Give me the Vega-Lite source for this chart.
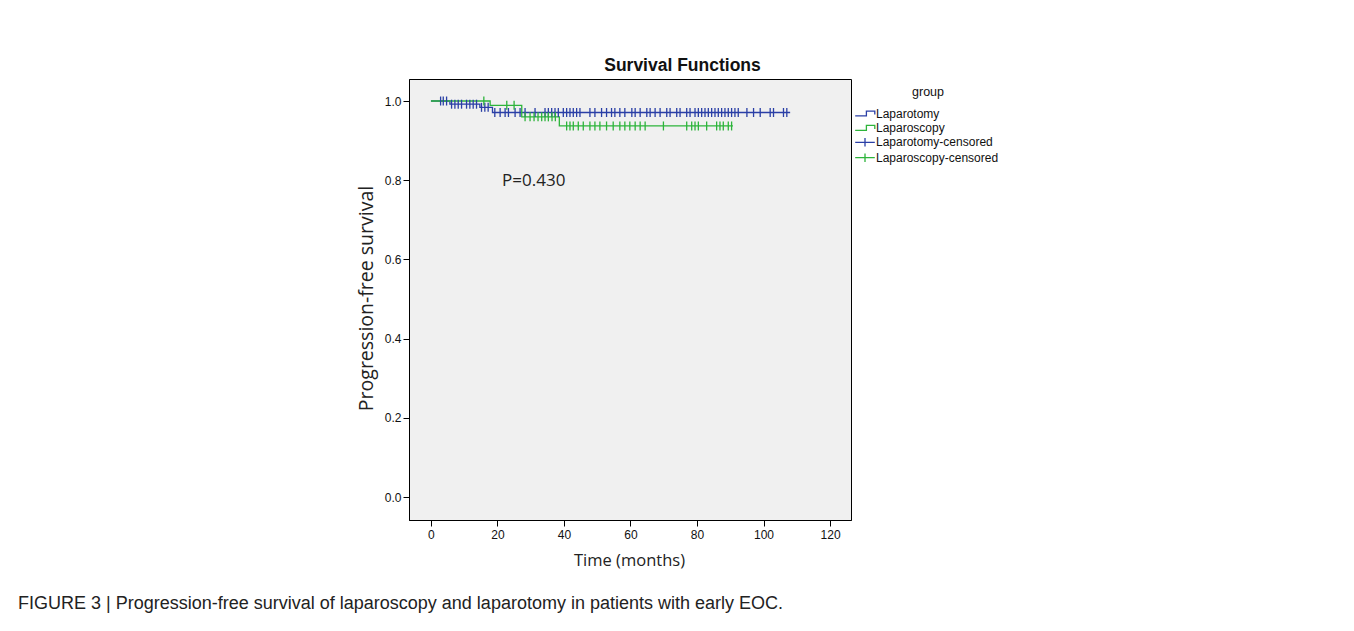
{
  "$schema": "https://vega.github.io/schema/vega-lite/v6.json",
  "autosize": {"type": "none"},
  "width": 442,
  "height": 441,
  "padding": {"left": 409, "top": 79, "right": 503, "bottom": 111},
  "background": "#ffffff",
  "title": {
    "text": "FIGURE 3 | Progression-free survival of laparoscopy and laparotomy in patients with early EOC.",
    "orient": "bottom",
    "anchor": "start",
    "frame": "group",
    "dx": -391,
    "offset": 26,
    "fontSize": 18,
    "font": "Liberation Sans",
    "fontWeight": "normal",
    "color": "#222222"
  },
  "datasets": {
    "curve": [
      {"group": "Laparotomy", "t": 0, "s": 1.0},
      {"group": "Laparotomy", "t": 5.7, "s": 0.992},
      {"group": "Laparotomy", "t": 14.7, "s": 0.984},
      {"group": "Laparotomy", "t": 18.5, "s": 0.971},
      {"group": "Laparotomy", "t": 108, "s": 0.971},
      {"group": "Laparoscopy", "t": 0, "s": 1.0},
      {"group": "Laparoscopy", "t": 17.8, "s": 0.989},
      {"group": "Laparoscopy", "t": 27.3, "s": 0.96},
      {"group": "Laparoscopy", "t": 38.6, "s": 0.937},
      {"group": "Laparoscopy", "t": 90.8, "s": 0.937}
    ],
    "censor": [
      {"group": "Laparotomy-censored", "t": 2.9, "s": 1.0},
      {"group": "Laparotomy-censored", "t": 3.7, "s": 1.0},
      {"group": "Laparotomy-censored", "t": 4.7, "s": 1.0},
      {"group": "Laparotomy-censored", "t": 6.2, "s": 0.992},
      {"group": "Laparotomy-censored", "t": 7.2, "s": 0.992},
      {"group": "Laparotomy-censored", "t": 8.2, "s": 0.992},
      {"group": "Laparotomy-censored", "t": 9.2, "s": 0.992},
      {"group": "Laparotomy-censored", "t": 10.7, "s": 0.992},
      {"group": "Laparotomy-censored", "t": 11.7, "s": 0.992},
      {"group": "Laparotomy-censored", "t": 12.7, "s": 0.992},
      {"group": "Laparotomy-censored", "t": 13.7, "s": 0.992},
      {"group": "Laparotomy-censored", "t": 15.2, "s": 0.984},
      {"group": "Laparotomy-censored", "t": 16.2, "s": 0.984},
      {"group": "Laparotomy-censored", "t": 17.2, "s": 0.984},
      {"group": "Laparotomy-censored", "t": 19.2, "s": 0.971},
      {"group": "Laparotomy-censored", "t": 20.8, "s": 0.971},
      {"group": "Laparotomy-censored", "t": 22.3, "s": 0.971},
      {"group": "Laparotomy-censored", "t": 23.3, "s": 0.971},
      {"group": "Laparotomy-censored", "t": 25.3, "s": 0.971},
      {"group": "Laparotomy-censored", "t": 26.8, "s": 0.971},
      {"group": "Laparotomy-censored", "t": 28.3, "s": 0.971},
      {"group": "Laparotomy-censored", "t": 31.3, "s": 0.971},
      {"group": "Laparotomy-censored", "t": 34.3, "s": 0.971},
      {"group": "Laparotomy-censored", "t": 35.3, "s": 0.971},
      {"group": "Laparotomy-censored", "t": 36.3, "s": 0.971},
      {"group": "Laparotomy-censored", "t": 37.3, "s": 0.971},
      {"group": "Laparotomy-censored", "t": 38.3, "s": 0.971},
      {"group": "Laparotomy-censored", "t": 39.8, "s": 0.971},
      {"group": "Laparotomy-censored", "t": 40.8, "s": 0.971},
      {"group": "Laparotomy-censored", "t": 41.8, "s": 0.971},
      {"group": "Laparotomy-censored", "t": 42.8, "s": 0.971},
      {"group": "Laparotomy-censored", "t": 43.8, "s": 0.971},
      {"group": "Laparotomy-censored", "t": 44.8, "s": 0.971},
      {"group": "Laparotomy-censored", "t": 47.8, "s": 0.971},
      {"group": "Laparotomy-censored", "t": 49.3, "s": 0.971},
      {"group": "Laparotomy-censored", "t": 51.3, "s": 0.971},
      {"group": "Laparotomy-censored", "t": 52.8, "s": 0.971},
      {"group": "Laparotomy-censored", "t": 54.3, "s": 0.971},
      {"group": "Laparotomy-censored", "t": 55.3, "s": 0.971},
      {"group": "Laparotomy-censored", "t": 56.8, "s": 0.971},
      {"group": "Laparotomy-censored", "t": 58.3, "s": 0.971},
      {"group": "Laparotomy-censored", "t": 60.4, "s": 0.971},
      {"group": "Laparotomy-censored", "t": 61.4, "s": 0.971},
      {"group": "Laparotomy-censored", "t": 62.9, "s": 0.971},
      {"group": "Laparotomy-censored", "t": 64.9, "s": 0.971},
      {"group": "Laparotomy-censored", "t": 65.9, "s": 0.971},
      {"group": "Laparotomy-censored", "t": 67.4, "s": 0.971},
      {"group": "Laparotomy-censored", "t": 68.9, "s": 0.971},
      {"group": "Laparotomy-censored", "t": 70.9, "s": 0.971},
      {"group": "Laparotomy-censored", "t": 71.9, "s": 0.971},
      {"group": "Laparotomy-censored", "t": 73.9, "s": 0.971},
      {"group": "Laparotomy-censored", "t": 74.9, "s": 0.971},
      {"group": "Laparotomy-censored", "t": 76.9, "s": 0.971},
      {"group": "Laparotomy-censored", "t": 77.9, "s": 0.971},
      {"group": "Laparotomy-censored", "t": 79.4, "s": 0.971},
      {"group": "Laparotomy-censored", "t": 80.4, "s": 0.971},
      {"group": "Laparotomy-censored", "t": 81.4, "s": 0.971},
      {"group": "Laparotomy-censored", "t": 82.4, "s": 0.971},
      {"group": "Laparotomy-censored", "t": 83.4, "s": 0.971},
      {"group": "Laparotomy-censored", "t": 84.4, "s": 0.971},
      {"group": "Laparotomy-censored", "t": 85.4, "s": 0.971},
      {"group": "Laparotomy-censored", "t": 86.4, "s": 0.971},
      {"group": "Laparotomy-censored", "t": 87.4, "s": 0.971},
      {"group": "Laparotomy-censored", "t": 88.4, "s": 0.971},
      {"group": "Laparotomy-censored", "t": 89.4, "s": 0.971},
      {"group": "Laparotomy-censored", "t": 90.4, "s": 0.971},
      {"group": "Laparotomy-censored", "t": 91.4, "s": 0.971},
      {"group": "Laparotomy-censored", "t": 92.4, "s": 0.971},
      {"group": "Laparotomy-censored", "t": 95, "s": 0.971},
      {"group": "Laparotomy-censored", "t": 97, "s": 0.971},
      {"group": "Laparotomy-censored", "t": 99, "s": 0.971},
      {"group": "Laparotomy-censored", "t": 102, "s": 0.971},
      {"group": "Laparotomy-censored", "t": 103, "s": 0.971},
      {"group": "Laparotomy-censored", "t": 106, "s": 0.971},
      {"group": "Laparotomy-censored", "t": 107, "s": 0.971},
      {"group": "Laparoscopy-censored", "t": 15.9, "s": 1.0},
      {"group": "Laparoscopy-censored", "t": 22.8, "s": 0.989},
      {"group": "Laparoscopy-censored", "t": 25, "s": 0.989},
      {"group": "Laparoscopy-censored", "t": 28.3, "s": 0.96},
      {"group": "Laparoscopy-censored", "t": 29.8, "s": 0.96},
      {"group": "Laparoscopy-censored", "t": 31, "s": 0.96},
      {"group": "Laparoscopy-censored", "t": 32.2, "s": 0.96},
      {"group": "Laparoscopy-censored", "t": 33.3, "s": 0.96},
      {"group": "Laparoscopy-censored", "t": 34.3, "s": 0.96},
      {"group": "Laparoscopy-censored", "t": 35.3, "s": 0.96},
      {"group": "Laparoscopy-censored", "t": 36.4, "s": 0.96},
      {"group": "Laparoscopy-censored", "t": 37.4, "s": 0.96},
      {"group": "Laparoscopy-censored", "t": 40.8, "s": 0.937},
      {"group": "Laparoscopy-censored", "t": 41.8, "s": 0.937},
      {"group": "Laparoscopy-censored", "t": 42.8, "s": 0.937},
      {"group": "Laparoscopy-censored", "t": 44.3, "s": 0.937},
      {"group": "Laparoscopy-censored", "t": 45.8, "s": 0.937},
      {"group": "Laparoscopy-censored", "t": 47.8, "s": 0.937},
      {"group": "Laparoscopy-censored", "t": 49.3, "s": 0.937},
      {"group": "Laparoscopy-censored", "t": 50.8, "s": 0.937},
      {"group": "Laparoscopy-censored", "t": 52.8, "s": 0.937},
      {"group": "Laparoscopy-censored", "t": 54.8, "s": 0.937},
      {"group": "Laparoscopy-censored", "t": 56.8, "s": 0.937},
      {"group": "Laparoscopy-censored", "t": 58.3, "s": 0.937},
      {"group": "Laparoscopy-censored", "t": 59.8, "s": 0.937},
      {"group": "Laparoscopy-censored", "t": 61.4, "s": 0.937},
      {"group": "Laparoscopy-censored", "t": 62.9, "s": 0.937},
      {"group": "Laparoscopy-censored", "t": 64.4, "s": 0.937},
      {"group": "Laparoscopy-censored", "t": 69.9, "s": 0.937},
      {"group": "Laparoscopy-censored", "t": 76.9, "s": 0.937},
      {"group": "Laparoscopy-censored", "t": 78.4, "s": 0.937},
      {"group": "Laparoscopy-censored", "t": 79.4, "s": 0.937},
      {"group": "Laparoscopy-censored", "t": 80.4, "s": 0.937},
      {"group": "Laparoscopy-censored", "t": 82.9, "s": 0.937},
      {"group": "Laparoscopy-censored", "t": 85.9, "s": 0.937},
      {"group": "Laparoscopy-censored", "t": 86.9, "s": 0.937},
      {"group": "Laparoscopy-censored", "t": 87.9, "s": 0.937},
      {"group": "Laparoscopy-censored", "t": 89.4, "s": 0.937},
      {"group": "Laparoscopy-censored", "t": 90.4, "s": 0.937}
    ],
    "note": [
      {"label": "P=0.430", "t": 21.4, "s": 0.798}
    ]
  },
  "layer": [
    {
      "data": {"name": "curve"},
      "mark": {"type": "line", "interpolate": "step-after", "strokeWidth": 1.3},
      "encoding": {
        "x": {
          "field": "t", "type": "quantitative",
          "scale": {"domain": [-6.6, 126.3], "nice": false, "zero": false},
          "axis": {
            "orient": "bottom",
            "title": "Time (months)",
            "values": [0, 20, 40, 60, 80, 100, 120],
            "grid": false,
            "tickSize": 6,
            "tickColor": "#000000",
            "domainColor": "#000000",
            "labelFont": "Liberation Sans",
            "labelFontSize": 12,
            "labelColor": "#111111",
            "labelPadding": 3,
            "titleFont": "Open Sans",
            "titleFontSize": 16.5,
            "titleFontWeight": "normal",
            "titleColor": "#222222",
            "titleX": 220,
            "titleY": 40,
            "titleBaseline": "middle",
            "titleAlign": "center"
          }
        },
        "y": {
          "field": "s", "type": "quantitative",
          "scale": {"domain": [-0.058, 1.0556], "nice": false, "zero": false},
          "axis": {
            "title": "Progression-free survival",
            "values": [0, 0.2, 0.4, 0.6, 0.8, 1.0],
            "format": ".1f",
            "grid": false,
            "tickSize": 6,
            "tickColor": "#000000",
            "domainColor": "#000000",
            "labelFont": "Liberation Sans",
            "labelFontSize": 12,
            "labelColor": "#111111",
            "labelPadding": 2,
            "titleFont": "Open Sans",
            "titleFontSize": 19.5,
            "titleFontWeight": "normal",
            "titleColor": "#222222",
            "titleX": -43,
            "titleY": 219,
            "titleAngle": -90,
            "titleBaseline": "middle",
            "titleAlign": "center"
          }
        },
        "color": {
          "field": "group", "type": "nominal",
          "scale": {
            "domain": ["Laparotomy", "Laparoscopy", "Laparotomy-censored", "Laparoscopy-censored"],
            "range": ["#2a3fa6", "#2db43b", "#2a3fa6", "#2db43b"]
          },
          "legend": {
            "title": "group",
            "orient": "none",
            "legendX": 448,
            "legendY": 7,
            "titleFont": "Liberation Sans",
            "titleFontSize": 12.5,
            "titleFontWeight": "normal",
            "titleColor": "#111111",
            "titleAnchor": "middle",
            "titleAlign": "center",
            "titlePadding": 7,
            "labelFont": "Liberation Sans",
            "labelFontSize": 12,
            "labelColor": "#111111",
            "labelOffset": 3,
            "symbolSize": 196,
            "symbolStrokeWidth": 1.3,
            "rowPadding": 0.4,
            "encode": {
              "symbols": {
                "update": {
                  "shape": {"signal": "indexof(datum.value, 'censored') > 0 ? 'M-1.4,0H1.4M0,-0.6V0.6' : 'M-1.4,0.35H0.2V-0.35H1.4V0.15'"},
                  "fill": {"value": "transparent"},
                  "strokeWidth": {"value": 1.3}
                }
              }
            }
          }
        }
      }
    },
    {
      "data": {"name": "censor"},
      "mark": {"type": "point", "shape": "M0,-1V1", "size": 81, "filled": false, "strokeWidth": 1.3, "opacity": 1},
      "encoding": {
        "x": {"field": "t", "type": "quantitative", "scale": {"domain": [-6.6, 126.3], "nice": false, "zero": false}, "axis": null},
        "y": {"field": "s", "type": "quantitative", "scale": {"domain": [-0.058, 1.0556], "nice": false, "zero": false}},
        "color": {"field": "group", "type": "nominal"}
      }
    },
    {
      "data": {"name": "note"},
      "mark": {"type": "text", "align": "left", "baseline": "middle", "font": "Open Sans", "fontSize": 17, "color": "#222222"},
      "encoding": {
        "x": {
          "field": "t", "type": "quantitative",
          "scale": {"domain": [-6.6, 126.3], "nice": false, "zero": false},
          "axis": {
            "orient": "top",
            "title": "Survival Functions",
            "ticks": false,
            "labels": false,
            "domain": false,
            "grid": false,
            "titleFont": "Liberation Sans",
            "titleFontSize": 17.5,
            "titleFontWeight": "bold",
            "titleColor": "#111111",
            "titleX": 273,
            "titleY": -9,
            "titleBaseline": "alphabetic",
            "titleAlign": "center"
          }
        },
        "y": {"field": "s", "type": "quantitative", "scale": {"domain": [-0.058, 1.0556], "nice": false, "zero": false}},
        "text": {"field": "label"}
      }
    }
  ],
  "resolve": {"axis": {"x": "independent"}},
  "config": {
    "view": {"fill": "#f0f0f0", "stroke": "#000000", "strokeWidth": 1}
  }
}
